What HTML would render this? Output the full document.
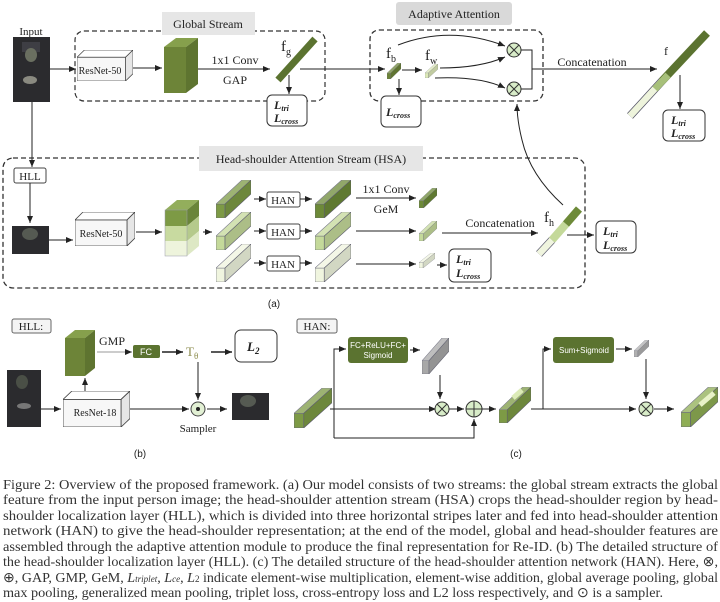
<!DOCTYPE html>
<html><head><meta charset="utf-8"><style>
html,body{margin:0;padding:0;background:#fff}
svg{display:block}
text{font-family:"Liberation Serif",serif;fill:#222}
.s{font-family:"Liberation Sans",sans-serif}
.cap{font-size:14px;fill:#333}
</style></head><body>
<svg width="720" height="602" viewBox="0 0 720 602" xmlns="http://www.w3.org/2000/svg">
<defs>
<marker id="a" markerWidth="8" markerHeight="8" refX="7" refY="4" orient="auto" markerUnits="userSpaceOnUse"><path d="M0,1 L7,4 L0,7 z" fill="#222"/></marker>
<symbol id="bar" viewBox="0 0 35 38" preserveAspectRatio="none">
<polygon points="0,24 9,24 9,38 0,38" fill="currentColor" stroke="#667" stroke-width="0.6"/>
<polygon points="0,24 26,0 35,0 9,24" fill="currentColor" stroke="#667" stroke-width="0.6"/>
<polygon points="0,24 26,0 35,0 9,24" fill="#fff" opacity="0.25"/>
<polygon points="9,24 35,0 35,14 9,38" fill="currentColor" stroke="#667" stroke-width="0.6"/>
<polygon points="9,24 35,0 35,14 9,38" fill="#000" opacity="0.12"/>
</symbol>
<symbol id="box3" viewBox="0 0 60 34" preserveAspectRatio="none">
<polygon points="0,8 8,0 60,0 52,8" fill="#fff" stroke="#444" stroke-width="0.8"/>
<polygon points="52,8 60,0 60,26 52,34" fill="#e6e6e6" stroke="#444" stroke-width="0.8"/>
<rect x="0" y="8" width="52" height="26" fill="#f7f7f7" stroke="#444" stroke-width="0.8"/>
</symbol>
</defs>

<!-- ============ Global stream ============ -->
<text x="31" y="35" font-size="11" text-anchor="middle">Input</text>
<rect x="13" y="37" width="37" height="65" fill="#2b2b2e"/>
<rect x="22" y="42" width="18" height="10" fill="#3e3e44"/>
<ellipse cx="31" cy="55" rx="6" ry="7" fill="#6a6f60"/>
<ellipse cx="30" cy="80" rx="7" ry="4" fill="#8a8a80"/>
<rect x="75" y="31" width="250" height="70" rx="9" fill="none" stroke="#333" stroke-width="1.2" stroke-dasharray="5,3"/>
<rect x="162" y="12" width="93" height="23" fill="#e6e6e6"/>
<text x="208" y="28" font-size="12" text-anchor="middle">Global Stream</text>
<line x1="50" y1="69" x2="76" y2="69" stroke="#222" marker-end="url(#a)"/>
<use href="#box3" x="77" y="50" width="56" height="31"/>
<text x="100" y="74" font-size="10" text-anchor="middle">ResNet-50</text>
<line x1="133" y1="68" x2="162" y2="68" stroke="#222" marker-end="url(#a)"/>
<polygon points="164,47 186,47 186,93 164,93" fill="#6d8438"/>
<polygon points="164,47 176,38 198,38 186,47" fill="#86a04c"/>
<polygon points="186,47 198,38 198,84 186,93" fill="#5e7430"/>
<line x1="198" y1="69" x2="270" y2="69" stroke="#222" marker-end="url(#a)"/>
<text x="235" y="64" font-size="12" text-anchor="middle">1x1 Conv</text>
<text x="235" y="84" font-size="12" text-anchor="middle">GAP</text>
<line x1="278" y1="80" x2="315" y2="39" stroke="#5b7330" stroke-width="7"/>
<text x="281" y="51" font-size="15">f<tspan font-size="10" dy="4">g</tspan></text>
<line x1="289" y1="75" x2="289" y2="94" stroke="#222" marker-end="url(#a)"/>
<rect x="267" y="95" width="40" height="31" rx="5" fill="#fff" stroke="#333"/>
<text x="274" y="109" font-size="12" font-weight="bold" font-style="italic">L<tspan font-size="8" dy="2">tri</tspan></text>
<text x="274" y="122" font-size="12" font-weight="bold" font-style="italic">L<tspan font-size="8" dy="2">cross</tspan></text>
<line x1="300" y1="69" x2="385" y2="69" stroke="#222" marker-end="url(#a)"/>

<!-- ============ Adaptive attention ============ -->
<rect x="396" y="2" width="116" height="23" rx="3" fill="#d9d9d9"/>
<text x="454" y="18" font-size="12" text-anchor="middle">Adaptive Attention</text>
<rect x="370" y="30" width="173" height="71" rx="9" fill="none" stroke="#333" stroke-width="1.3" stroke-dasharray="5,3"/>
<text x="386" y="58" font-size="15">f<tspan font-size="10" dy="4">b</tspan></text>
<use href="#bar" x="387" y="63" width="14" height="16" color="#6d8438"/>
<line x1="402" y1="70" x2="422" y2="70" stroke="#222" marker-end="url(#a)"/>
<text x="425" y="60" font-size="15">f<tspan font-size="10" dy="4">w</tspan></text>
<use href="#bar" x="425" y="64" width="13" height="14" color="#dce8b8"/>
<path d="M398,45 Q450,25 505,46" fill="none" stroke="#222" marker-end="url(#a)"/>
<path d="M440,68 Q480,68 505,57" fill="none" stroke="#222" marker-end="url(#a)"/>
<path d="M435,78 Q480,76 505,88" fill="none" stroke="#222" marker-end="url(#a)"/>
<circle cx="514" cy="50" r="7" fill="#d8ecc8" stroke="#333"/>
<path d="M509,45 L519,55 M519,45 L509,55" stroke="#333"/>
<circle cx="514" cy="89" r="7" fill="#d8ecc8" stroke="#333"/>
<path d="M509,84 L519,94 M519,84 L509,94" stroke="#333"/>
<path d="M521,50 H532 V89 H521" fill="none" stroke="#222"/>
<line x1="532" y1="69" x2="657" y2="69" stroke="#222" marker-end="url(#a)"/>
<text x="592" y="66" font-size="12" text-anchor="middle">Concatenation</text>
<line x1="399" y1="79" x2="399" y2="95" stroke="#222" marker-end="url(#a)"/>
<rect x="381" y="96" width="40" height="31" rx="5" fill="#fff" stroke="#333"/>
<text x="386" y="116" font-size="12" font-weight="bold" font-style="italic">L<tspan font-size="8" dy="2">cross</tspan></text>
<!-- f bar -->
<line x1="630" y1="116" x2="662" y2="81" stroke="#556" stroke-width="8"/>
<line x1="630" y1="116" x2="662" y2="81" stroke="#eef4dc" stroke-width="6.5"/>
<line x1="662" y1="81" x2="707" y2="33" stroke="#5b7330" stroke-width="8"/>
<line x1="655" y1="89" x2="668" y2="75" stroke="#a7c07a" stroke-width="7"/>
<text x="664" y="55" font-size="12">f</text>
<line x1="680" y1="75" x2="680" y2="109" stroke="#222" marker-end="url(#a)"/>
<rect x="663" y="110" width="42" height="31" rx="5" fill="#fff" stroke="#333"/>
<text x="671" y="124" font-size="12" font-weight="bold" font-style="italic">L<tspan font-size="8" dy="2">tri</tspan></text>
<text x="671" y="137" font-size="12" font-weight="bold" font-style="italic">L<tspan font-size="8" dy="2">cross</tspan></text>

<!-- ============ HSA ============ -->
<line x1="32" y1="102" x2="32" y2="167" stroke="#222" marker-end="url(#a)"/>
<rect x="3" y="158" width="582" height="130" rx="10" fill="none" stroke="#333" stroke-width="1.3" stroke-dasharray="5,3"/>
<rect x="199" y="146" width="224" height="25" fill="#e6e6e6"/>
<text x="311" y="163" font-size="12" text-anchor="middle">Head-shoulder Attention Stream (HSA)</text>
<rect x="14" y="168" width="32" height="15" rx="2" fill="#fff" stroke="#444"/>
<text x="30" y="180" font-size="11" text-anchor="middle">HLL</text>
<line x1="30" y1="183" x2="30" y2="223" stroke="#222" marker-end="url(#a)"/>
<rect x="12" y="226" width="37" height="28" fill="#2b2b2e"/>
<ellipse cx="30" cy="234" rx="8" ry="6" fill="#555a52"/>
<line x1="49" y1="240" x2="73" y2="240" stroke="#222" marker-end="url(#a)"/>
<use href="#box3" x="75" y="212" width="60" height="34"/>
<text x="101" y="237" font-size="10" text-anchor="middle">ResNet-50</text>
<line x1="136" y1="232" x2="162" y2="232" stroke="#222" marker-end="url(#a)"/>
<!-- stacked slab -->
<polygon points="165,210 187,210 187,226 165,226" fill="#7d9a45"/>
<polygon points="165,226 187,226 187,241 165,241" fill="#c8daa0"/>
<polygon points="165,241 187,241 187,256 165,256" fill="#eef4dc"/>
<polygon points="165,210 177,200 199,200 187,210" fill="#93ae5c"/>
<polygon points="187,210 199,200 199,216 187,226" fill="#6a853a"/>
<polygon points="187,226 199,216 199,231 187,241" fill="#b5ca8c"/>
<polygon points="187,241 199,231 199,246 187,256" fill="#dde8c4"/>
<rect x="165" y="210" width="22" height="46" fill="none" stroke="#99a" stroke-width="0.5"/>
<line x1="203" y1="232" x2="212" y2="232" stroke="#222" marker-end="url(#a)"/>
<use href="#bar" x="216" y="180" width="35" height="38" color="#7d9a45"/>
<use href="#bar" x="216" y="212" width="35" height="38" color="#c4d99a"/>
<use href="#bar" x="216" y="244" width="35" height="38" color="#f0f5df"/>
<line x1="254" y1="199" x2="266" y2="199" stroke="#222" marker-end="url(#a)"/>
<line x1="254" y1="231" x2="266" y2="231" stroke="#222" marker-end="url(#a)"/>
<line x1="254" y1="263" x2="266" y2="263" stroke="#222" marker-end="url(#a)"/>
<rect x="267" y="192" width="33" height="15" rx="2" fill="#fff" stroke="#444"/>
<rect x="267" y="224" width="33" height="15" rx="2" fill="#fff" stroke="#444"/>
<rect x="267" y="256" width="33" height="15" rx="2" fill="#fff" stroke="#444"/>
<text x="283" y="204" font-size="11" text-anchor="middle">HAN</text>
<text x="283" y="236" font-size="11" text-anchor="middle">HAN</text>
<text x="283" y="268" font-size="11" text-anchor="middle">HAN</text>
<line x1="300" y1="199" x2="312" y2="199" stroke="#222" marker-end="url(#a)"/>
<line x1="300" y1="231" x2="312" y2="231" stroke="#222" marker-end="url(#a)"/>
<line x1="300" y1="263" x2="312" y2="263" stroke="#222" marker-end="url(#a)"/>
<use href="#bar" x="315" y="180" width="36" height="38" color="#6d8a38"/>
<use href="#bar" x="315" y="212" width="36" height="38" color="#c4d99a"/>
<use href="#bar" x="315" y="244" width="36" height="38" color="#f0f5df"/>
<line x1="356" y1="198" x2="416" y2="198" stroke="#222" marker-end="url(#a)"/>
<line x1="356" y1="231" x2="416" y2="231" stroke="#222" marker-end="url(#a)"/>
<line x1="356" y1="264" x2="416" y2="264" stroke="#222" marker-end="url(#a)"/>
<text x="386" y="193" font-size="12" text-anchor="middle">1x1 Conv</text>
<text x="386" y="213" font-size="12" text-anchor="middle">GeM</text>
<use href="#bar" x="419" y="188" width="18" height="20" color="#6d8a38"/>
<use href="#bar" x="419" y="221" width="18" height="20" color="#c4d99a"/>
<use href="#bar" x="419" y="253" width="16" height="15" color="#f0f5df"/>
<line x1="437" y1="265" x2="447" y2="265" stroke="#222" marker-end="url(#a)"/>
<rect x="449" y="249" width="42" height="33" rx="5" fill="#fff" stroke="#333"/>
<text x="456" y="263" font-size="12" font-weight="bold" font-style="italic">L<tspan font-size="8" dy="2">tri</tspan></text>
<text x="456" y="277" font-size="12" font-weight="bold" font-style="italic">L<tspan font-size="8" dy="2">cross</tspan></text>
<line x1="442" y1="233" x2="538" y2="233" stroke="#222" marker-end="url(#a)"/>
<text x="500" y="227" font-size="12" text-anchor="middle">Concatenation</text>
<text x="544" y="222" font-size="15">f<tspan font-size="10" dy="4">h</tspan></text>
<line x1="539" y1="254" x2="552" y2="240" stroke="#667" stroke-width="8"/>
<line x1="539" y1="254" x2="552" y2="240" stroke="#f0f5df" stroke-width="6.5"/>
<line x1="552" y1="240" x2="566" y2="224" stroke="#c4d99a" stroke-width="8"/>
<line x1="566" y1="224" x2="579" y2="209" stroke="#6d8a38" stroke-width="8"/>
<line x1="567" y1="235" x2="594" y2="235" stroke="#222" marker-end="url(#a)"/>
<rect x="596" y="221" width="40" height="32" rx="5" fill="#fff" stroke="#333"/>
<text x="603" y="235" font-size="12" font-weight="bold" font-style="italic">L<tspan font-size="8" dy="2">tri</tspan></text>
<text x="603" y="249" font-size="12" font-weight="bold" font-style="italic">L<tspan font-size="8" dy="2">cross</tspan></text>
<path d="M563,205 Q530,175 522,140 Q517,120 517,104" fill="none" stroke="#222" marker-end="url(#a)"/>
<text x="274" y="307" font-size="10" text-anchor="middle" class="s">(a)</text>

<!-- ============ HLL (b) ============ -->
<rect x="12" y="319" width="39" height="14" rx="2" fill="#f4f4f4" stroke="#666"/>
<text x="31" y="330" font-size="11" text-anchor="middle">HLL:</text>
<polygon points="65,338 85,338 85,376 65,376" fill="#6d8438"/>
<polygon points="65,338 75,330 95,330 85,338" fill="#86a04c"/>
<polygon points="85,338 95,330 95,368 85,376" fill="#5e7430"/>
<rect x="7" y="370" width="34" height="57" fill="#2b2b2e"/>
<ellipse cx="22" cy="382" rx="6" ry="7" fill="#4a4f46"/>
<ellipse cx="24" cy="406" rx="7" ry="3" fill="#777"/>
<line x1="41" y1="409" x2="61" y2="409" stroke="#222" marker-end="url(#a)"/>
<use href="#box3" x="63" y="391" width="67" height="36"/>
<text x="95" y="416" font-size="10" text-anchor="middle">ResNet-18</text>
<line x1="85" y1="391" x2="85" y2="378" stroke="#222" marker-end="url(#a)"/>
<line x1="130" y1="409" x2="189" y2="409" stroke="#222" marker-end="url(#a)"/>
<circle cx="198" cy="409" r="7" fill="#e2f0d4" stroke="#444"/>
<circle cx="198" cy="409" r="2" fill="#222"/>
<text x="198" y="432" font-size="11" text-anchor="middle">Sampler</text>
<line x1="207" y1="409" x2="227" y2="409" stroke="#222" marker-end="url(#a)"/>
<rect x="232" y="393" width="37" height="27" fill="#2b2b2e"/>
<ellipse cx="248" cy="401" rx="8" ry="6" fill="#555a52"/>
<text x="112" y="345" font-size="12" text-anchor="middle">GMP</text>
<line x1="97" y1="352" x2="132" y2="352" stroke="#999" marker-end="url(#a)"/>
<rect x="133" y="345" width="27" height="13" rx="2" fill="#5b7330"/>
<text x="146" y="355" font-size="9" text-anchor="middle" class="s" style="fill:#fff">FC</text>
<line x1="162" y1="352" x2="183" y2="352" stroke="#222" stroke-width="1.6" marker-end="url(#a)"/>
<text x="186" y="356" font-size="13" style="fill:#8e8e50">T<tspan font-size="9" dy="3">θ</tspan></text>
<line x1="211" y1="352" x2="232" y2="352" stroke="#222" stroke-width="1.6" marker-end="url(#a)"/>
<rect x="235" y="330" width="42" height="32" rx="6" fill="#fff" stroke="#333"/>
<text x="247" y="351" font-size="13" font-weight="bold" font-style="italic">L<tspan font-size="9" dy="3">2</tspan></text>
<line x1="198" y1="362" x2="198" y2="400" stroke="#222" marker-end="url(#a)"/>
<text x="140" y="457" font-size="10" text-anchor="middle" class="s">(b)</text>

<!-- ============ HAN (c) ============ -->
<rect x="297" y="319" width="40" height="14" rx="2" fill="#f4f4f4" stroke="#666"/>
<text x="317" y="330" font-size="11" text-anchor="middle">HAN:</text>
<use href="#bar" x="294" y="388" width="38" height="40" color="#7d9a45"/>
<line x1="330" y1="409" x2="436" y2="409" stroke="#222" marker-end="url(#a)"/>
<path d="M334,438 H474 V419" fill="none" stroke="#222" marker-end="url(#a)"/>
<path d="M334,438 V349 H346" fill="none" stroke="#222" marker-end="url(#a)"/>
<rect x="348" y="337" width="60" height="26" rx="3" fill="#5b7330"/>
<text x="378" y="348" font-size="8" text-anchor="middle" class="s" style="fill:#fff">FC+ReLU+FC+</text>
<text x="378" y="358" font-size="8" text-anchor="middle" class="s" style="fill:#fff">Sigmoid</text>
<line x1="410" y1="350" x2="420" y2="350" stroke="#222" marker-end="url(#a)"/>
<use href="#bar" x="422" y="338" width="27" height="36" color="#a8a8a8"/>
<line x1="440" y1="375" x2="440" y2="399" stroke="#222" marker-end="url(#a)"/>
<circle cx="442" cy="409" r="7" fill="#d8ecc8" stroke="#333"/>
<path d="M437,404 L447,414 M447,404 L437,414" stroke="#333"/>
<line x1="449" y1="409" x2="464" y2="409" stroke="#222" marker-end="url(#a)"/>
<circle cx="474" cy="409" r="8" fill="#d8ecc8" stroke="#333"/>
<path d="M466,409 H482 M474,401 V417" stroke="#333"/>
<line x1="482" y1="409" x2="496" y2="409" stroke="#222" marker-end="url(#a)"/>
<use href="#bar" x="499" y="387" width="32" height="36" color="#7d9a45"/>
<line x1="513" y1="398" x2="522" y2="390" stroke="#dcebb8" stroke-width="5"/>
<line x1="531" y1="409" x2="636" y2="409" stroke="#222" marker-end="url(#a)"/>
<path d="M543,409 V349 H551" fill="none" stroke="#222" marker-end="url(#a)"/>
<rect x="553" y="337" width="61" height="26" rx="3" fill="#5b7330"/>
<text x="584" y="353" font-size="8" text-anchor="middle" class="s" style="fill:#fff">Sum+Sigmoid</text>
<line x1="616" y1="349" x2="632" y2="349" stroke="#222" marker-end="url(#a)"/>
<use href="#bar" x="634" y="340" width="15" height="17" color="#b0b0b0"/>
<line x1="646" y1="359" x2="646" y2="399" stroke="#222" marker-end="url(#a)"/>
<circle cx="646" cy="409" r="7" fill="#d8ecc8" stroke="#333"/>
<path d="M641,404 L651,414 M651,404 L641,414" stroke="#333"/>
<line x1="654" y1="409" x2="674" y2="409" stroke="#222" marker-end="url(#a)"/>
<use href="#bar" x="681" y="387" width="37" height="40" color="#8fae55"/>
<line x1="700" y1="405" x2="714" y2="393" stroke="#e8f2c8" stroke-width="5"/>
<text x="516" y="457" font-size="10" text-anchor="middle" class="s">(c)</text>

<!-- ============ Caption ============ -->
<g class="cap">
<text class="cap" x="3" y="489" textLength="715" lengthAdjust="spacingAndGlyphs">Figure 2: Overview of the proposed framework. (a) Our model consists of two streams: the global stream extracts the global</text>
<text class="cap" x="3" y="504" textLength="715" lengthAdjust="spacingAndGlyphs">feature from the input person image; the head-shoulder attention stream (HSA) crops the head-shoulder region by head-</text>
<text class="cap" x="3" y="520" textLength="715" lengthAdjust="spacingAndGlyphs">shoulder localization layer (HLL), which is divided into three horizontal stripes later and fed into head-shoulder attention</text>
<text class="cap" x="3" y="535" textLength="715" lengthAdjust="spacingAndGlyphs">network (HAN) to give the head-shoulder representation; at the end of the model, global and head-shoulder features are</text>
<text class="cap" x="3" y="551" textLength="715" lengthAdjust="spacingAndGlyphs">assembled through the adaptive attention module to produce the final representation for Re-ID. (b) The detailed structure of</text>
<text class="cap" x="3" y="566" textLength="715" lengthAdjust="spacingAndGlyphs">the head-shoulder localization layer (HLL). (c) The detailed structure of the head-shoulder attention network (HAN). Here, ⊗,</text>
<text class="cap" x="3" y="582" textLength="715" lengthAdjust="spacingAndGlyphs">⊕, GAP, GMP, GeM, <tspan font-style="italic">L</tspan><tspan font-style="italic" font-size="9">triplet</tspan>, <tspan font-style="italic">L</tspan><tspan font-style="italic" font-size="9">ce</tspan>, <tspan font-style="italic">L</tspan><tspan font-size="9">2</tspan> indicate element-wise multiplication, element-wise addition, global average pooling, global</text>
<text class="cap" x="3" y="597" textLength="660" lengthAdjust="spacingAndGlyphs">max pooling, generalized mean pooling, triplet loss, cross-entropy loss and L2 loss respectively, and ⊙ is a sampler.</text>
</g>
</svg>
</body></html>
